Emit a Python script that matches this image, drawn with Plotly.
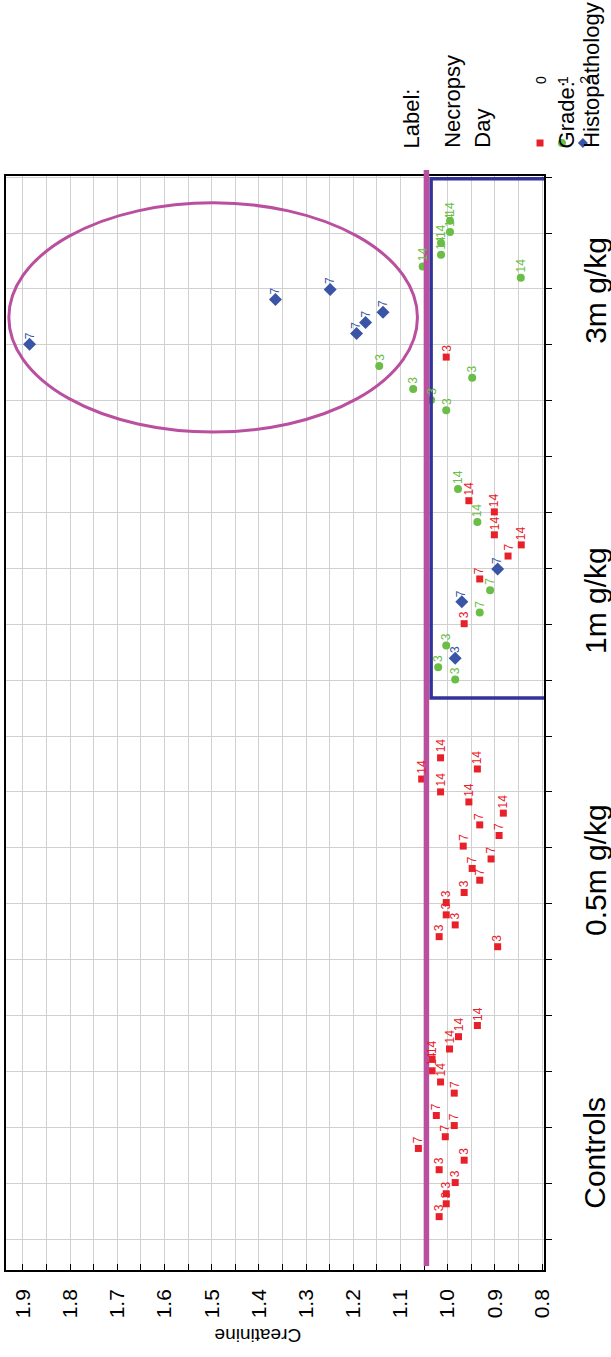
import plotly.graph_objects as go

# ---- data -------------------------------------------------------------
# Each dose group: position along the dose axis, creatinine (mg/dL),
# necropsy day (used as point label) and histopathology grade.
ctrl_pos = [4.82, 4.62, 4.40, 4.22, 4.01, 3.81, 3.61, 3.21, 3.03, 2.83, 2.62,
            2.41, 2.24, 2.01, 1.81, 1.63, 1.40]
ctrl_creat = [0.937, 0.977, 0.996, 1.033, 1.033, 1.015, 0.986, 1.024, 0.986,
              1.005, 1.062, 0.965, 1.018, 0.984, 1.003, 1.003, 1.018]
ctrl_day = [14, 14, 14, 14, 14, 14, 7, 7, 7, 7, 7, 3, 3, 3, 3, 3, 3]
ctrl_grade = [0] * 17

low_pos = [9.61, 9.41, 9.23, 9.00, 8.82, 8.62, 8.41, 8.22, 8.03, 7.80, 7.63,
           7.42, 7.20, 7.02, 6.80, 6.62, 6.41, 6.23]
low_creat = [1.015, 0.937, 1.055, 1.015, 0.955, 0.882, 0.932, 0.891, 0.967,
             0.908, 0.948, 0.932, 0.965, 1.003, 1.003, 0.984, 1.018, 0.894]
low_day = [14, 14, 14, 14, 14, 14, 7, 7, 7, 7, 7, 7, 3, 3, 3, 3, 3, 3]
low_grade = [0] * 18

mid_pos = [14.42, 14.21, 14.01, 13.83, 13.60, 13.42, 13.22, 12.99, 12.81,
           12.61, 12.40, 12.21, 12.01, 11.62, 11.39, 11.23, 11.01]
mid_creat = [0.978, 0.955, 0.901, 0.937, 0.901, 0.844, 0.872, 0.894, 0.932,
             0.910, 0.970, 0.932, 0.965, 1.003, 0.984, 1.020, 0.984]
mid_day = [14, 14, 14, 14, 14, 14, 7, 7, 7, 7, 7, 7, 3, 3, 3, 3, 3]
mid_grade = [1, 0, 0, 1, 0, 0, 0, 2, 0, 1, 2, 1, 0, 1, 2, 1, 1]

high_pos = [19.22, 19.02, 18.82, 18.61, 18.40, 18.20, 17.99, 17.81, 17.58,
            17.40, 17.20, 17.01, 16.78, 16.62, 16.41, 16.21, 16.01, 15.83]
high_creat = [0.995, 0.995, 1.014, 1.014, 1.053, 0.845, 1.249, 1.365, 1.137,
              1.174, 1.193, 1.886, 1.003, 1.145, 0.948, 1.073, 1.035, 1.003]
high_day = [14, 14, 14, 14, 14, 14, 7, 7, 7, 7, 7, 7, 3, 3, 3, 3, 3, 3]
high_grade = [1, 1, 1, 1, 1, 1, 2, 2, 2, 2, 2, 2, 0, 1, 1, 1, 1, 1]

group_labels = ["Controls", "0.5m g/kg", "1m g/kg", "3m g/kg"]
group_label_pos = [2.54, 7.60, 12.43, 17.98]

creat_tick_vals = [0.80, 0.85, 0.90, 0.95, 1.00, 1.05, 1.10, 1.15, 1.20, 1.25,
                   1.30, 1.35, 1.40, 1.45, 1.50, 1.55, 1.60, 1.65, 1.70, 1.75,
                   1.80, 1.85, 1.90]
creat_tick_text = ["0.8", "", "0.9", "", "1.0", "", "1.1", "", "1.2", "",
                   "1.3", "", "1.4", "", "1.5", "", "1.6", "", "1.7", "",
                   "1.8", "", "1.9"]

grades = [0, 1, 2]
grade_names = ["0", "1", "2"]

reference_creat = 1.045          # upper reference level
highlight_box = dict(x0=1.035, x1=0.787, y0=10.68, y1=19.97)
highlight_ellipse = dict(x0=1.930, x1=1.064, y0=15.44, y1=19.54)

# ---- styling ----------------------------------------------------------
FONT = "Arial, 'Liberation Sans', sans-serif"
grade_color = {0: "#E8202A", 1: "#6ABD45", 2: "#3A55A5"}
grade_symbol = {0: "square", 1: "circle", 2: "diamond"}
grade_size = {0: 7, 1: 8, 2: 10}
MAGENTA = "#BA4FA0"
BOX_BLUE = "#333399"
GRID = "#D0D0D0"

W, H = 611, 1357
M_L, M_R, M_T, M_B = 4, 67, 176, 87
PW, PH = W - M_L - M_R, H - M_T - M_B


def px_x(px):
    return (px - M_L) / PW


def px_y(py):
    return (H - M_B - py) / PH


pos = ctrl_pos + low_pos + mid_pos + high_pos
creat = ctrl_creat + low_creat + mid_creat + high_creat
day = ctrl_day + low_day + mid_day + high_day
grade = ctrl_grade + low_grade + mid_grade + high_grade

fig = go.Figure()

for g in grades:
    idx = [i for i, v in enumerate(grade) if v == g]
    fig.add_trace(go.Scatter(
        x=[creat[i] for i in idx],
        y=[pos[i] for i in idx],
        mode="markers",
        name=grade_names[g],
        marker=dict(symbol=grade_symbol[g], size=grade_size[g],
                    color=grade_color[g], line=dict(width=0)),
        cliponaxis=False,
        hoverinfo="skip",
    ))

annotations = []
# necropsy-day label beside every point
for c, p, d, g in zip(creat, pos, day, grade):
    annotations.append(dict(
        x=c, y=p, xref="x", yref="y", text=str(d), showarrow=False,
        textangle=-90, xanchor="center", yanchor="bottom", yshift=3,
        font=dict(family=FONT, size=12, color=grade_color[g]),
    ))

# dose group names along the category axis
for lbl, p in zip(group_labels, group_label_pos):
    annotations.append(dict(
        x=px_x(595), y=p, xref="paper", yref="y", text=lbl, showarrow=False,
        textangle=-90, xanchor="center", yanchor="middle",
        font=dict(family=FONT, size=30, color="black"),
    ))

# axis title
annotations.append(dict(
    x=px_x(257), y=px_y(1336), xref="paper", yref="paper", text="Creatinine",
    showarrow=False, textangle=180, xanchor="center", yanchor="middle",
    font=dict(family=FONT, size=19, color="black"),
))

# legend text
for txt, xp in [("Label:", 412), ("Necropsy", 452), ("Day", 482),
                ("Grade:", 567), ("Histopathology", 592)]:
    annotations.append(dict(
        x=px_x(xp), y=px_y(150), xref="paper", yref="paper", text=txt,
        showarrow=False, textangle=-90, xanchor="center", yanchor="bottom",
        font=dict(family=FONT, size=22, color="black"),
    ))
for g, xp in zip(grades, [541, 563, 585]):
    annotations.append(dict(
        x=px_x(xp), y=px_y(80), xref="paper", yref="paper", text=grade_names[g],
        showarrow=False, textangle=-90, xanchor="center", yanchor="middle",
        font=dict(family=FONT, size=14, color="black"),
    ))

shapes = [
    dict(type="circle", xref="x", yref="y", layer="above",
         line=dict(color=MAGENTA, width=3), **highlight_ellipse),
    dict(type="rect", xref="x", yref="y", layer="above",
         line=dict(color=BOX_BLUE, width=3.5), fillcolor="rgba(0,0,0,0)",
         **highlight_box),
    dict(type="line", xref="x", yref="paper", layer="above",
         x0=reference_creat, x1=reference_creat, y0=px_y(1266), y1=px_y(170),
         line=dict(color=MAGENTA, width=5.5)),
]

# legend symbols
for g, xp in zip(grades, [540, 562, 583]):
    ax, ay = px_x(xp), px_y(143)
    common = dict(xref="paper", yref="paper", xsizemode="pixel",
                  ysizemode="pixel", xanchor=ax, yanchor=ay,
                  fillcolor=grade_color[g], line=dict(width=0))
    if g == 0:
        shapes.append(dict(type="rect", x0=-3.5, x1=3.5, y0=-3.5, y1=3.5, **common))
    elif g == 1:
        shapes.append(dict(type="circle", x0=-4, x1=4, y0=-4, y1=4, **common))
    else:
        shapes.append(dict(type="path", path="M 0 5 L 5 0 L 0 -5 L -5 0 Z", **common))

fig.update_layout(
    width=W, height=H,
    margin=dict(l=M_L, r=M_R, t=M_T, b=M_B, pad=0),
    paper_bgcolor="white", plot_bgcolor="white",
    showlegend=False,
    font=dict(family=FONT, color="black"),
    annotations=annotations,
    shapes=shapes,
    xaxis=dict(
        range=[1.936, 0.7958],
        tickmode="array", tickvals=creat_tick_vals, ticktext=creat_tick_text,
        tickangle=-90, tickfont=dict(family=FONT, size=21, color="black"),
        ticks="inside", ticklen=6, tickcolor="black", tickwidth=1,
        ticklabelstandoff=9,
        showgrid=True, gridcolor=GRID, gridwidth=1,
        showline=True, linecolor="black", linewidth=1.5, mirror=True,
        zeroline=False,
    ),
    yaxis=dict(
        range=[0.4454, 20.02], side="right",
        tickmode="linear", tick0=0, dtick=1, showticklabels=False,
        ticks="outside", ticklen=6, tickcolor="black", tickwidth=1,
        showgrid=True, gridcolor=GRID, gridwidth=1,
        showline=True, linecolor="black", linewidth=2, mirror=True,
        zeroline=False,
    ),
)

fig.write_html("out.html")
